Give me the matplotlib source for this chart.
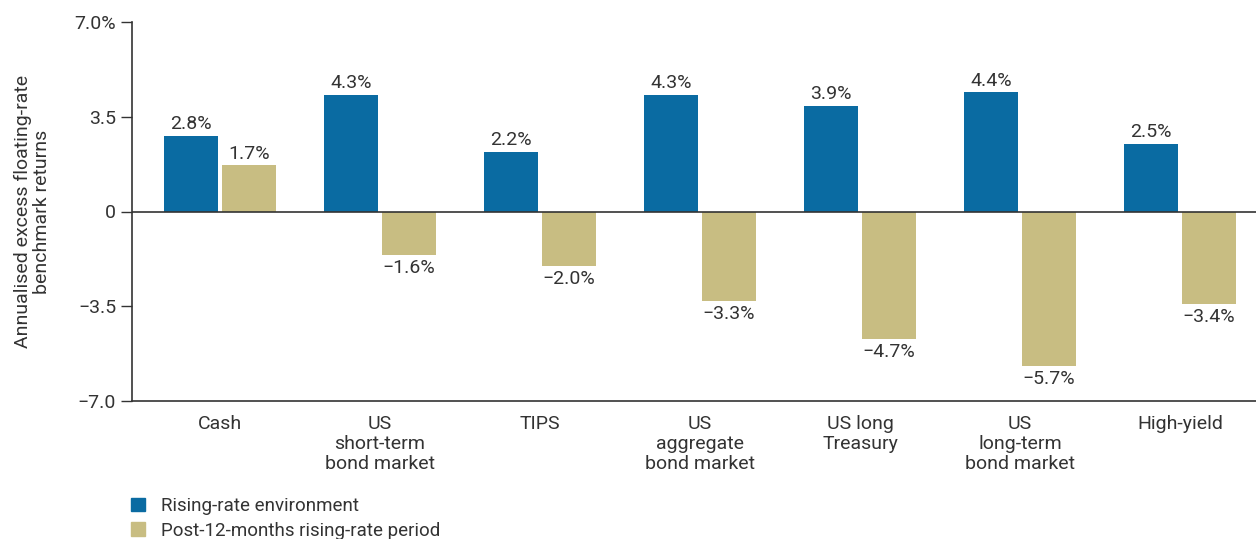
import numpy as np
import matplotlib
matplotlib.use("Agg")
from matplotlib import pyplot as plt
from matplotlib.patches import Patch

plt.rcParams['font.family'] = ['Roboto', 'DejaVu Sans']

categories = ["Cash", "US\nshort-term\nbond market", "TIPS", "US\naggregate\nbond market",
              "US long\nTreasury", "US\nlong-term\nbond market", "High-yield"]
rising = [2.8, 4.3, 2.2, 4.3, 3.9, 4.4, 2.5]
post = [1.7, -1.6, -2.0, -3.3, -4.7, -5.7, -3.4]
series_names = ["Rising-rate environment", "Post-12-months rising-rate period"]
yticks = [7.0, 3.5, 0, -3.5, -7.0]
ytick_labels = ["7.0%", "3.5", "0", "\u22123.5", "\u22127.0"]

blue = "#0A6BA2"
gold = "#C8BD82"
txt = "#333333"
fs = 14

fig = plt.figure(figsize=(12.56, 5.39), dpi=100)
ax = fig.add_axes([132/1256, 1 - 401/539, 1 - 132/1256, (401 - 22)/539])

x = np.arange(len(categories))
w = 0.3375
off = 0.181
ax.bar(x - off, rising, w, color=blue)
ax.bar(x + off, post, w, color=gold)


def fmt(v):
    s = f"{abs(v):.1f}%"
    return ("\u2212" + s) if v < 0 else s


for xi, v in zip(x - off, rising):
    ax.annotate(fmt(v), (xi, v), xytext=(0, 2), textcoords="offset points",
                ha="center", va="bottom", fontsize=fs, color=txt)
for xi, v in zip(x + off, post):
    if v >= 0:
        ax.annotate(fmt(v), (xi, v), xytext=(0, 2), textcoords="offset points",
                    ha="center", va="bottom", fontsize=fs, color=txt)
    else:
        ax.annotate(fmt(v), (xi, v), xytext=(0, -3), textcoords="offset points",
                    ha="center", va="top", fontsize=fs, color=txt)

ax.set_xlim(-0.55, 6.475)
ax.set_ylim(-7.0, 7.0)
ax.axhline(0, color="#333333", lw=1.2)
ax.set_yticks(yticks)
ax.set_yticklabels(ytick_labels)
ax.set_xticks(x)
ax.set_xticklabels(categories, fontsize=fs, color=txt, linespacing=1.15)
ax.tick_params(axis="x", length=0, pad=10)
ax.tick_params(axis="y", length=8, width=1, color="#333333", labelsize=fs, labelcolor=txt)
for s in ["top", "right"]:
    ax.spines[s].set_visible(False)
for s in ["left", "bottom"]:
    ax.spines[s].set_color("#333333")
    ax.spines[s].set_linewidth(1.2)
ax.set_ylabel("Annualised excess floating-rate\nbenchmark returns", fontsize=fs,
              color=txt, labelpad=17, linespacing=1.05)

handles = [Patch(color=blue), Patch(color=gold)]
fig.legend(handles, series_names, loc="upper left", bbox_to_anchor=(118/1256, 1 - 484/539),
           frameon=False, fontsize=13.5, handlelength=0.75, handleheight=0.75,
           handletextpad=0.85, labelspacing=0.35, labelcolor=txt, borderpad=0.2)

fig.savefig("out.png", dpi=100)
